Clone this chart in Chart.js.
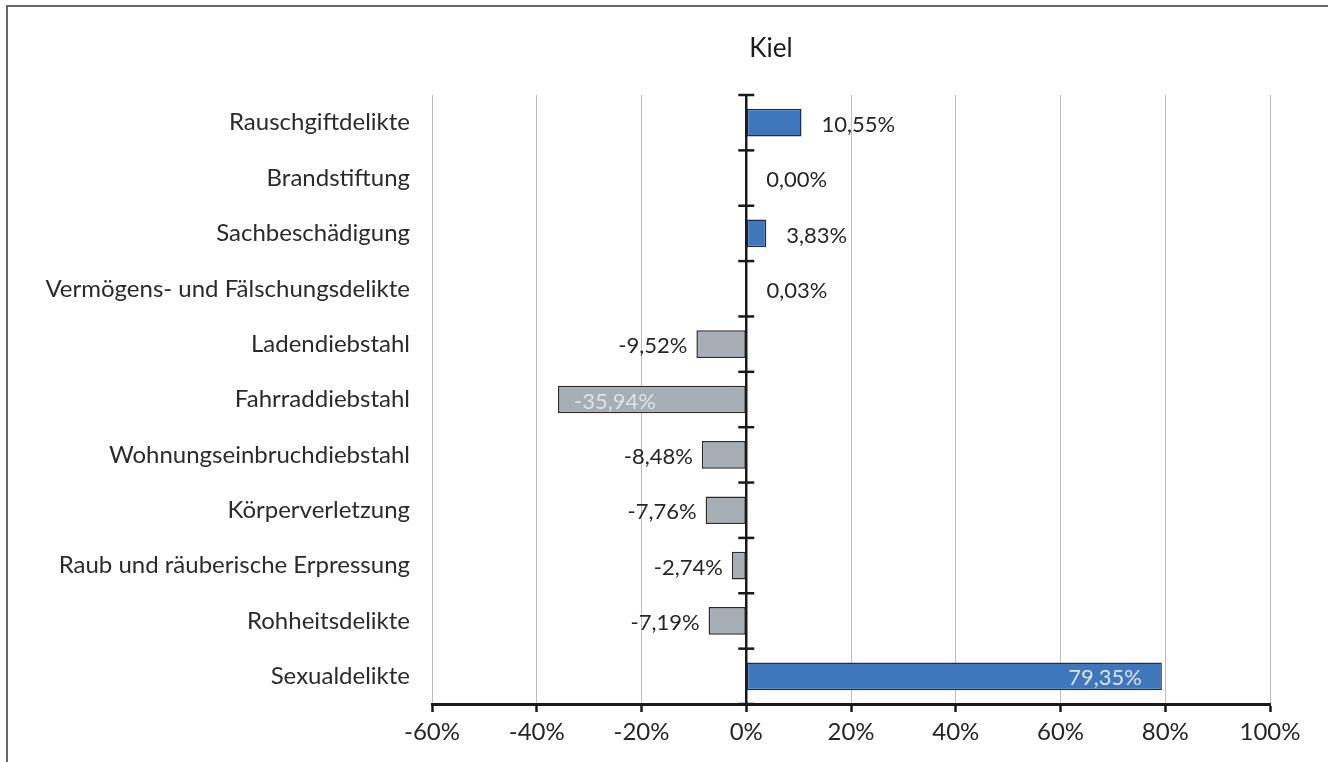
<!DOCTYPE html>
<html>
<head>
<meta charset="utf-8">
<script src="https://cdn.jsdelivr.net/npm/chart.js@4/dist/chart.umd.min.js"></script>
<style>
  html, body { margin: 0; padding: 0; background: #fff; }
  #wrap { position: relative; width: 1328px; height: 762px; overflow: hidden; }
  #frame { position: absolute; left: 6px; top: 5px; width: 1400px; height: 800px;
           border-left: 2px solid #666; border-top: 2px solid #666; }
  canvas { position: absolute; left: 0; top: 0; }
</style>
</head>
<body>
<div id="wrap">
  <div id="frame"></div>
  <canvas id="chart1" width="1328" height="762"></canvas>
</div>
<script>
/************* data ********* */
const categories = ["Rauschgiftdelikte", "Brandstiftung", "Sachbeschädigung",
  "Vermögens- und Fälschungsdelikte", "Ladendiebstahl", "Fahrraddiebstahl",
  "Wohnungseinbruchdiebstahl", "Körperverletzung", "Raub und räuberische Erpressung",
  "Rohheitsdelikte", "Sexualdelikte"];
const changes = [10.55, 0.00, 3.83, 0.03, -9.52, -35.94, -8.48, -7.76, -2.74, -7.19, 79.35];
const xTicks = [-60, -40, -20, 0, 20, 40, 60, 80, 100];

const blue = '#3F77BD';
const grey = '#A7AEB6';
const fontFam = 'Lato, "Open Sans", sans-serif';

function fmt(v) {
  return v.toFixed(2).replace('.', ',') + '%';
}

// title, zero line with crossing ticks, value labels
const extras = {
  id: 'extras',
  afterDatasetsDraw(chart) {
    const ctx = chart.ctx;
    const xs = chart.scales.x;
    const area = chart.chartArea;
    const x0 = xs.getPixelForValue(0);
    ctx.save();

    // zero line
    ctx.strokeStyle = '#1a1a1a';
    ctx.lineWidth = 2.5;
    ctx.beginPath();
    ctx.moveTo(x0, area.top);
    ctx.lineTo(x0, area.bottom);
    ctx.stroke();
    const step = (area.bottom - area.top) / categories.length;
    for (let i = 0; i <= categories.length; i++) {
      const y = area.top + i * step;
      ctx.beginPath();
      ctx.moveTo(x0 - 8, y);
      ctx.lineTo(x0 + 8, y);
      ctx.stroke();
    }

    // value labels
    ctx.font = '22px ' + fontFam;
    ctx.textBaseline = 'middle';
    chart.getDatasetMeta(0).data.forEach((bar, i) => {
      const v = changes[i];
      const txt = fmt(v);
      const y = bar.y + 2;
      if (Math.abs(v) > 30) {
        ctx.fillStyle = '#dfe3e8';
        if (v > 0) { ctx.textAlign = 'right'; ctx.fillText(txt, bar.x - 20, y); }
        else { ctx.textAlign = 'left'; ctx.fillText(txt, bar.x + 16, y); }
      } else {
        ctx.fillStyle = '#262626';
        if (v >= 0) { ctx.textAlign = 'left'; ctx.fillText(txt, bar.x + 20, y); }
        else { ctx.textAlign = 'right'; ctx.fillText(txt, bar.x - 9, y); }
      }
    });

    // title
    ctx.fillStyle = '#1a1a1a';
    ctx.font = '26px ' + fontFam;
    ctx.textAlign = 'center';
    ctx.fillText('Kiel', 771, 49);
    ctx.restore();
  }
};

new Chart("chart1", {
  type: "bar",
  data: {
    labels: categories,
    datasets: [{
      data: changes,
      backgroundColor: changes.map(v => v >= 0 ? blue : grey),
      borderColor: changes.map(v => v >= 0 ? '#1f3046' : '#2b2b2b'),
      borderWidth: 1.5,
      borderSkipped: false,
      categoryPercentage: 1,
      barPercentage: 0.5
    }]
  },
  options: {
    indexAxis: 'y',
    responsive: false,
    animation: false,
    layout: { padding: { top: 95, right: 58, bottom: 0, left: 20 } },
    plugins: {
      legend: { display: false },
      title: { display: false },
      tooltip: { enabled: false }
    },
    scales: {
      x: {
        min: -60,
        max: 100,
        afterBuildTicks: s => { s.ticks = xTicks.map(v => ({ value: v })); },
        afterFit: s => { s.height = 58; },
        grid: { color: '#bdbdbd', lineWidth: 1, tickColor: '#1a1a1a', tickLength: 8, tickWidth: 2.5 },
        border: { display: true, color: '#1a1a1a', width: 3 },
        ticks: {
          color: '#262626',
          padding: 6,
          font: { family: fontFam, size: 24 },
          callback: v => v + '%'
        }
      },
      y: {
        afterFit: s => { s.width = 412; },
        grid: { display: false },
        border: { display: false },
        ticks: {
          color: '#2b2b2b',
          padding: 14,
          font: { family: fontFam, size: 24 }
        }
      }
    }
  },
  plugins: [extras]
});
</script>
</body>
</html>
